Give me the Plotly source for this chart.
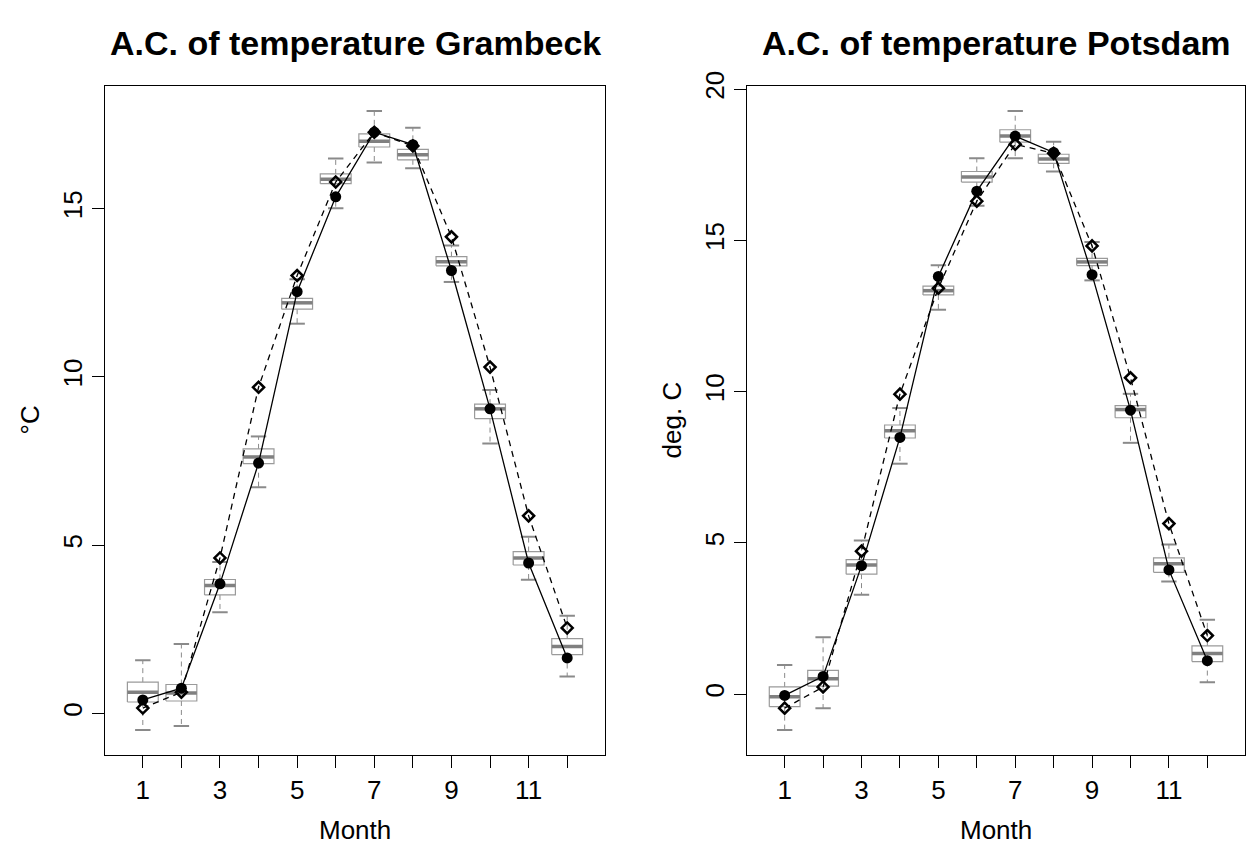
import plotly.graph_objects as go

months = list(range(1, 13))
tick_labels = ["1", "", "3", "", "5", "", "7", "", "9", "", "11", ""]

# Grambeck
gram_q1 = [0.34, 0.37, 3.52, 7.42, 12.01, 15.74, 16.83, 16.45, 13.30, 8.76, 4.41, 1.75]
gram_med = [0.63, 0.61, 3.80, 7.62, 12.20, 15.87, 17.00, 16.60, 13.42, 9.05, 4.62, 1.99]
gram_q3 = [0.93, 0.86, 3.98, 7.86, 12.33, 16.03, 17.22, 16.76, 13.57, 9.19, 4.81, 2.22]
gram_lo = [-0.49, -0.37, 3.01, 6.72, 11.58, 15.01, 16.37, 16.20, 12.82, 8.02, 3.97, 1.10]
gram_hi = [1.58, 2.06, 4.50, 8.23, 12.90, 16.49, 17.90, 17.40, 13.90, 9.61, 5.25, 2.90]
gram_dot = [0.40, 0.75, 3.85, 7.44, 12.53, 15.35, 17.27, 16.90, 13.16, 9.05, 4.47, 1.65]
gram_dia = [0.16, 0.63, 4.62, 9.69, 13.01, 15.79, 17.27, 16.86, 14.16, 10.29, 5.87, 2.54]

# Potsdam
pots_q1 = [-0.41, 0.27, 3.97, 8.47, 13.20, 16.93, 18.25, 17.55, 14.17, 9.14, 4.03, 1.08]
pots_med = [-0.08, 0.51, 4.27, 8.71, 13.34, 17.10, 18.45, 17.69, 14.29, 9.41, 4.31, 1.35]
pots_q3 = [0.24, 0.79, 4.45, 8.90, 13.49, 17.28, 18.66, 17.85, 14.41, 9.54, 4.51, 1.60]
pots_lo = [-1.18, -0.46, 3.29, 7.62, 12.71, 16.15, 17.72, 17.28, 13.68, 8.31, 3.73, 0.40]
pots_hi = [0.97, 1.88, 5.08, 9.46, 14.18, 17.72, 19.28, 18.26, 14.95, 9.93, 4.95, 2.46]
pots_dot = [-0.04, 0.59, 4.25, 8.49, 13.81, 16.63, 18.45, 17.91, 13.87, 9.39, 4.11, 1.11]
pots_dia = [-0.46, 0.24, 4.73, 9.92, 13.42, 16.30, 18.18, 17.88, 14.82, 10.46, 5.64, 1.94]

W, H = 1253, 848
FONT = "Liberation Sans, Arial, Helvetica, sans-serif"
GRAY = "#8a8a8a"
BOXW = 0.4
CAPW = 0.2

fig = go.Figure()


def add_panel(xa, ya, q1, med, q3, lo, hi, dot, dia):
    bx, by, mx, my, wx, wy, cx, cy = [], [], [], [], [], [], [], []
    for m, a, md, b, l, h in zip(months, q1, med, q3, lo, hi):
        bx += [m - BOXW, m + BOXW, m + BOXW, m - BOXW, m - BOXW, None]
        by += [a, a, b, b, a, None]
        mx += [m - BOXW, m + BOXW, None]
        my += [md, md, None]
        wx += [m, m, None, m, m, None]
        wy += [b, h, None, a, l, None]
        cx += [m - CAPW, m + CAPW, None, m - CAPW, m + CAPW, None]
        cy += [h, h, None, l, l, None]
    common = dict(xaxis=xa, yaxis=ya, mode="lines", showlegend=False, hoverinfo="skip")
    fig.add_trace(go.Scatter(x=wx, y=wy, line=dict(color=GRAY, width=1, dash="5px,4px"), **common))
    fig.add_trace(go.Scatter(x=cx, y=cy, line=dict(color=GRAY, width=2), **common))
    fig.add_trace(go.Scatter(x=bx, y=by, line=dict(color="#9a9a9a", width=1.2), **common))
    fig.add_trace(go.Scatter(x=mx, y=my, line=dict(color="#808080", width=3.5), **common))
    fig.add_trace(go.Scatter(x=months, y=dia, xaxis=xa, yaxis=ya, mode="lines+markers",
                             showlegend=False,
                             line=dict(color="black", width=1.3, dash="6px,5px"),
                             marker=dict(symbol="diamond-open", size=8.5, color="black",
                                         line=dict(width=2.5, color="black"))))
    fig.add_trace(go.Scatter(x=months, y=dot, xaxis=xa, yaxis=ya, mode="lines+markers",
                             showlegend=False,
                             line=dict(color="black", width=1.3),
                             marker=dict(symbol="circle", size=11, color="black")))


add_panel("x", "y", gram_q1, gram_med, gram_q3, gram_lo, gram_hi, gram_dot, gram_dia)
add_panel("x2", "y2", pots_q1, pots_med, pots_q3, pots_lo, pots_hi, pots_dot, pots_dia)


def r_range(*arrs):
    vals = [v for a in arrs for v in a]
    lo, hi = min(vals), max(vals)
    ext = 0.04 * (hi - lo)
    return [lo - ext, hi + ext]


xr = r_range([0.5, 12.5])
yr1 = r_range(gram_lo, gram_hi, gram_dot, gram_dia)
yr2 = r_range(pots_lo, pots_hi, pots_dot, pots_dia)

frame_top, frame_bot = 72.5, 753
ydom = [(H - frame_bot) / H, (H - frame_top) / H]
L1 = [105, 605]
L2 = [747, 1245]

axis_common = dict(showgrid=False, zeroline=False, showline=True, mirror=True,
                   linecolor="black", linewidth=1, ticks="outside", ticklen=12,
                   tickcolor="black", tickwidth=1,
                   tickfont=dict(family=FONT, size=26, color="black"))

fig.update_layout(
    width=W, height=H, margin=dict(l=0, r=0, t=0, b=0),
    paper_bgcolor="white", plot_bgcolor="white",
    xaxis=dict(domain=[L1[0] / W, L1[1] / W], range=xr, anchor="y",
               tickvals=months, ticktext=tick_labels, **axis_common),
    yaxis=dict(domain=ydom, range=yr1, anchor="x", tickvals=[0, 5, 10, 15],
               tickangle=-90, **axis_common),
    xaxis2=dict(domain=[L2[0] / W, L2[1] / W], range=xr, anchor="y2",
                tickvals=months, ticktext=tick_labels, **axis_common),
    yaxis2=dict(domain=ydom, range=yr2, anchor="x2", tickvals=[0, 5, 10, 15, 20],
                tickangle=-90, **axis_common),
)

ann = []
for (l, r), title, ylab in [(L1, "A.C. of temperature Grambeck", "°C"),
                            (L2, "A.C. of temperature Potsdam", "deg. C")]:
    ann.append(dict(x=(l + r) / 2 / W, y=1 - 29 / H, xref="paper", yref="paper",
                    text="<b>" + title + "</b>", showarrow=False,
                    xanchor="center", yanchor="middle",
                    font=dict(family=FONT, size=34, color="black")))
    ann.append(dict(x=(l + r) / 2 / W, y=1 - 830 / H, xref="paper", yref="paper",
                    text="Month", showarrow=False, xanchor="center", yanchor="middle",
                    font=dict(family=FONT, size=26, color="black")))
    ann.append(dict(x=(l - 75) / W, y=1 - (frame_top + frame_bot) / 2 / H,
                    xref="paper", yref="paper", text=ylab, showarrow=False,
                    textangle=-90, xanchor="center", yanchor="middle",
                    font=dict(family=FONT, size=26, color="black")))
fig.update_layout(annotations=ann)

fig.write_html("out.html")
